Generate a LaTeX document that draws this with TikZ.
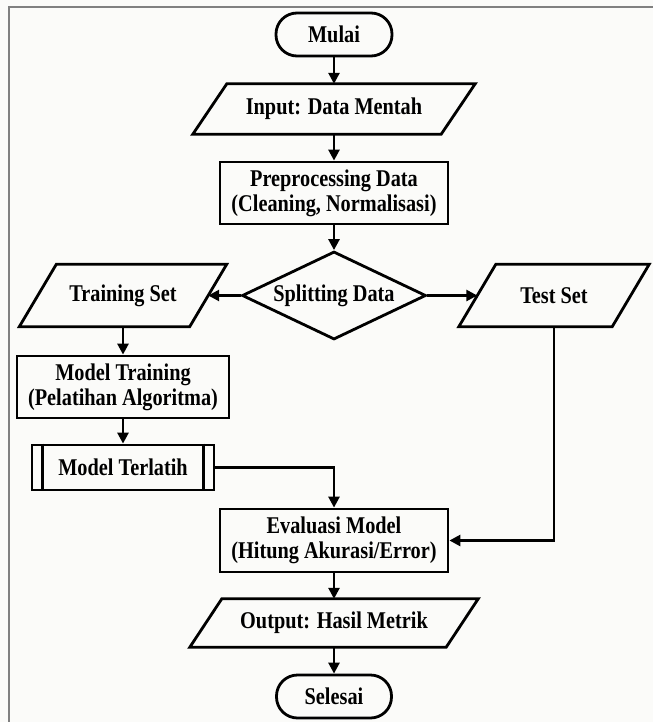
\documentclass[tikz,border=0pt]{standalone}
\usepackage{fontspec}
\setmainfont{Liberation Serif}[FakeStretch=0.845]
\usetikzlibrary{arrows.meta,shapes.geometric}
\definecolor{bg}{RGB}{251,251,249}
\definecolor{framegray}{RGB}{128,128,128}
\newcommand\drawpara[2]{\draw[shapeline] ([xshift=#2]#1.north west) -- ([xshift=#2]#1.north east) -- ([xshift=-#2]#1.south east) -- ([xshift=-#2]#1.south west) -- cycle;}
\begin{document}
\begin{tikzpicture}[x=1pt,y=-1pt,
  every node/.style={font=\fontsize{24}{25}\selectfont\bfseries, align=center, inner sep=0pt},
  shapeline/.style={line width=2.8pt, line join=miter},
  procbox/.style={draw, line width=2.8pt},
  terminal/.style={draw, line width=2.8pt, rounded corners=21pt, minimum width=116pt, minimum height=43pt},
  decision/.style={draw, diamond, line width=2.8pt, shape aspect=2.1, minimum width=184pt, minimum height=88pt},
  conn/.style={line width=2.6pt, -{Triangle[length=11pt,width=11pt]}},
  plainline/.style={line width=2.6pt}
]
\useasboundingbox (0,0) rectangle (653,722);
\fill[bg] (0,0) rectangle (653,722);
\draw[framegray, line width=2.2pt] (9,722) -- (9,7) -- (653,7);

\node[terminal] (mulai) at (334,34.5) {Mulai};
\node[minimum width=248pt, minimum height=50pt] (input) at (334,109) {Input: Data Mentah};
\node[procbox, minimum width=228pt, minimum height=62pt] (prep) at (334,193) {Preprocessing Data\\(Cleaning, Normalisasi)};
\node[decision] (split) at (334,295.5) {Splitting Data};
\node[minimum width=170pt, minimum height=62pt] (train) at (123,295.5) {Training Set};
\node[minimum width=153pt, minimum height=62pt] (test) at (554,295.5) {Test Set};
\node[procbox, minimum width=212pt, minimum height=62pt] (mtrain) at (123,387) {Model Training\\(Pelatihan Algoritma)};
\node[procbox, minimum width=182pt, minimum height=45pt] (mtl) at (123,467.5) {Model Terlatih};
\node[procbox, minimum width=228pt, minimum height=63pt] (eval) at (334,540.5) {Evaluasi Model\\(Hitung Akurasi/Error)};
\node[minimum width=256pt, minimum height=48pt] (out) at (334,623) {Output: Hasil Metrik};
\node[terminal, minimum width=115pt] (sel) at (334,696.5) {Selesai};

\drawpara{input}{17pt}
\drawpara{train}{18.5pt}
\drawpara{test}{18.5pt}
\drawpara{out}{16pt}
\draw[shapeline] ([xshift=12pt]mtl.north west) -- ([xshift=12pt]mtl.south west);
\draw[shapeline] ([xshift=-12pt]mtl.north east) -- ([xshift=-12pt]mtl.south east);

\draw[conn] (mulai) -- (input);
\draw[conn] (input) -- (prep);
\draw[conn] (prep) -- (split);
\draw[conn] (split) -- (train);
\draw[conn] (split) -- (test);
\draw[conn] (train) -- (mtrain);
\draw[conn] (mtrain) -- (mtl);
\draw[conn] (mtl.east) -| (eval.north);
\draw[conn] (test.south) |- (eval.east);
\draw[conn] (eval) -- (out);
\draw[conn] (out) -- (sel);
\end{tikzpicture}
\end{document}
